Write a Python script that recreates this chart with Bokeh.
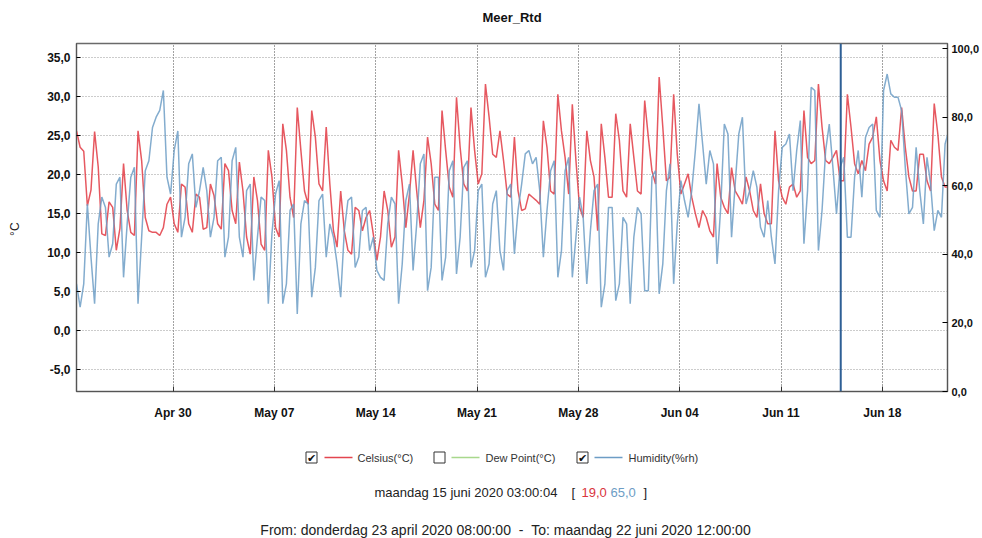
import datetime as dt
from bokeh.plotting import figure
from bokeh.models import (Range1d, LinearAxis, FixedTicker, DatetimeTickFormatter,
                          CustomJSTickFormatter, Span)
from bokeh.layouts import column
from bokeh.embed import file_html
from bokeh.resources import INLINE
from bokeh.core.properties import value

# ---------------- data ----------------
title_text = "Meer_Rtd"
start_time = dt.datetime(2020, 4, 23, 8, 0)
end_time = dt.datetime(2020, 6, 22, 12, 0)
sample_hours = 6          # samples at 08, 14, 20, 02 ...
cursor_time = dt.datetime(2020, 6, 15, 3, 0, 4)
cursor_celsius = 19.0
cursor_humidity = 65.0

celsius = [
    25.6, 23.5, 23.0,
    16.0, 18.0, 25.5, 21.0,
    12.4, 12.2, 16.5, 15.8,
    10.3, 13.1, 21.4, 15.4,
    12.6, 12.2, 25.6, 21.8,
    14.5, 12.8, 12.6, 12.6,
    12.2, 13.2, 16.2, 17.1,
    13.7, 12.6, 18.8, 18.4,
    13.7, 12.6, 17.5, 17.1,
    13.0, 13.2, 18.8, 17.3,
    13.7, 13.0, 21.4, 20.5,
    15.4, 13.7, 21.6, 17.9,
    12.0, 9.8, 19.7, 16.7,
    11.1, 10.3, 23.1, 19.7,
    13.2, 12.0, 26.5, 23.1,
    17.1, 14.5, 28.6, 23.1,
    17.9, 16.2, 28.2, 24.8,
    18.8, 17.9, 26.1, 18.8,
    12.8, 10.7, 17.9, 12.8,
    10.3, 9.8, 15.8, 15.4,
    12.8, 14.5, 15.4, 12.4,
    9.0, 12.0, 17.9, 15.4,
    10.7, 12.0, 23.1, 18.8,
    13.2, 17.5, 23.1, 17.9,
    13.2, 16.7, 24.8, 21.4,
    16.2, 15.4, 28.2, 23.1,
    18.4, 17.1, 29.9, 23.5,
    18.8, 17.9, 28.6, 23.1,
    18.8, 20.1, 31.6, 27.4,
    22.6, 22.2, 25.6, 21.8,
    17.5, 17.1, 24.8, 17.9,
    15.4, 15.6, 17.5, 17.1,
    16.7, 16.2, 26.9, 23.5,
    17.9, 17.5, 30.3, 25.6,
    22.2, 17.5, 29.0, 21.8,
    15.8, 14.5, 25.6, 21.8,
    19.7, 12.8, 26.5, 22.2,
    17.1, 17.1, 27.8, 24.4,
    17.9, 17.1, 26.5, 22.2,
    17.9, 17.5, 29.5, 24.8,
    20.5, 18.8, 32.5, 26.1,
    19.2, 19.7, 30.3, 22.6,
    17.5, 18.8, 20.1, 17.1,
    15.0, 13.2, 15.4, 14.5,
    12.8, 12.0, 21.4, 17.1,
    15.8, 15.0, 20.9, 17.9,
    17.1, 16.2, 19.7, 17.9,
    15.4, 14.5, 18.8, 15.0,
    13.7, 13.7, 25.6, 19.2,
    17.1, 16.2, 18.4, 18.8,
    17.1, 17.9, 28.2, 22.2,
    21.4, 21.8, 31.6, 26.1,
    21.8, 21.4, 22.2, 23.1,
    19.2, 19.2, 30.3, 26.1,
    21.4, 20.1, 21.8, 20.5,
    23.9, 24.8, 27.4, 21.8,
    19.2, 17.9, 24.4, 23.5,
    23.1, 28.6, 23.5, 19.7,
    17.9, 17.9, 22.6, 22.6,
    19.2, 17.9, 29.1, 25.2,
    19.7, 18.4, 18.4,
]

humidity = [
    31.4, 24.6, 31.4,
    54.7, 39.2, 25.6, 48.9,
    56.7, 53.7, 39.2, 43.1,
    60.5, 62.5, 33.3, 48.9,
    62.5, 65.4, 25.6, 45.0,
    64.4, 67.3, 77.0, 80.0,
    82.0, 87.8, 62.5, 57.6,
    70.3, 76.0, 45.0, 50.8,
    66.4, 69.3, 53.7, 58.6,
    65.4, 58.6, 45.0, 50.8,
    67.3, 68.3, 39.2, 45.0,
    67.3, 71.2, 45.0, 39.2,
    58.6, 60.5, 32.4, 45.0,
    56.7, 55.7, 25.6, 46.0,
    57.6, 61.5, 25.6, 31.4,
    52.8, 54.7, 22.6, 48.9,
    55.7, 54.7, 27.5, 36.2,
    55.7, 57.6, 39.2, 48.9,
    45.0, 37.2, 27.5, 46.9,
    55.7, 56.7, 36.2, 39.2,
    52.8, 53.7, 41.1, 45.0,
    35.3, 33.3, 32.4, 48.9,
    56.7, 54.7, 25.6, 37.2,
    55.7, 60.5, 35.3, 48.9,
    66.4, 69.3, 29.4, 36.2,
    62.5, 62.5, 32.4, 39.2,
    64.4, 67.3, 34.3, 45.0,
    65.4, 67.3, 36.2, 41.1,
    58.6, 60.5, 33.3, 37.2,
    54.7, 58.6, 41.1, 35.3,
    58.6, 60.5, 40.1, 52.8,
    60.5, 69.3, 70.3, 66.4,
    68.3, 58.6, 39.2, 52.8,
    64.4, 67.3, 33.3, 41.1,
    64.4, 68.3, 33.3, 45.0,
    56.7, 50.8, 31.4, 46.9,
    58.6, 60.5, 24.6, 31.4,
    53.7, 53.7, 26.5, 31.4,
    50.8, 48.9, 25.6, 45.0,
    53.7, 51.8, 29.4, 29.4,
    62.5, 64.4, 28.5, 37.2,
    58.6, 66.4, 31.4, 48.9,
    61.5, 55.7, 50.8, 58.6,
    70.3, 83.9, 72.2, 60.5,
    70.3, 66.4, 37.2, 53.7,
    78.0, 75.1, 45.0, 60.5,
    75.1, 80.0, 54.7, 58.6,
    64.4, 59.6, 47.9, 45.0,
    55.7, 45.0, 37.2, 58.6,
    71.2, 72.2, 75.1, 58.6,
    70.3, 79.0, 43.1, 58.6,
    88.7, 87.8, 41.1, 52.8,
    70.3, 78.0, 65.4, 51.8,
    65.4, 68.3, 45.0, 45.0,
    62.5, 70.3, 56.7, 74.1,
    77.0, 78.0, 52.8, 50.8,
    87.8, 92.6, 86.8, 85.8,
    85.8, 81.9, 65.4, 51.8,
    53.7, 71.2, 58.6, 48.9,
    68.3, 60.5, 46.9, 52.8,
    50.8, 72.2, 76.0,
]

week_ticks = ["2020-04-30", "2020-05-07", "2020-05-14", "2020-05-21",
              "2020-05-28", "2020-06-04", "2020-06-11", "2020-06-18"]
celsius_ticks = [-5, 0, 5, 10, 15, 20, 25, 30, 35]
humidity_ticks = [0, 20, 40, 60, 80, 100]
celsius_range = (-7.8, 36.8)
humidity_range = (0, 101.5)

legend_items = ["Celsius(°C)", "Dew Point(°C)", "Humidity(%rh)"]
legend_checked = [True, False, True]
cursor_label = "maandag 15 juni 2020 03:00:04"
NB = "\u00a0"
range_label = ("From: donderdag 23 april 2020 08:00:00" + NB + NB + "-" + NB + NB
               + "To: maandag 22 juni 2020 12:00:00")

RED = "#e3464f"
BLUE = "#6d9dc5"
GREEN = "#a8d88c"
FONT = "Liberation Sans"

times = [start_time + dt.timedelta(hours=sample_hours * i) for i in range(len(celsius))]


def ms(d):
    return (d - dt.datetime(1970, 1, 1)).total_seconds() * 1000.0


# layout geometry (page pixels)
PAGE_W, PAGE_H = 982, 538
FRAME_L, FRAME_R, FRAME_T, FRAME_B = 76, 947, 43, 391
TOP_H = 33                      # strip holding the title
MAIN_BOTTOM = 430               # page y where the chart figure ends
MAIN_H = MAIN_BOTTOM - TOP_H
LOW_H = PAGE_H - MAIN_BOTTOM


def text_strip(y0, y1):
    """A blank figure whose data coordinates equal page pixels (frame aligned by the column)."""
    f = figure(width=PAGE_W, height=y1 - y0,
               x_range=Range1d(FRAME_L, FRAME_R), y_range=Range1d(y1, y0),
               output_backend="svg", toolbar_location=None,
               x_axis_location=None, y_axis_location=None,
               min_border_left=FRAME_L, min_border_right=PAGE_W - FRAME_R,
               min_border_top=0, min_border_bottom=0)
    f.xgrid.visible = False
    f.ygrid.visible = False
    f.outline_line_color = None
    return f


# ---------------- title strip ----------------
t = text_strip(0, TOP_H)
t.text(x=[(FRAME_L + FRAME_R) / 2], y=[17], text=[title_text], text_align="center",
       text_baseline="middle", text_font=value(FONT), text_font_size="13px",
       text_font_style="bold", text_color="#111111")

# ---------------- main chart ----------------
p = figure(width=PAGE_W, height=MAIN_H, x_axis_type="datetime",
           x_range=Range1d(start_time, end_time),
           y_range=Range1d(*celsius_range),
           output_backend="svg", toolbar_location=None,
           min_border_left=FRAME_L, min_border_right=PAGE_W - FRAME_R,
           min_border_top=FRAME_T - TOP_H, min_border_bottom=MAIN_BOTTOM - FRAME_B)
p.extra_y_ranges = {"hum": Range1d(*humidity_range)}

p.outline_line_color = "#6a6a6a"
p.outline_line_width = 1.5
p.background_fill_color = "white"
p.border_fill_color = "white"

xa = p.xaxis[0]
xa.ticker = FixedTicker(ticks=[ms(dt.datetime.strptime(d, "%Y-%m-%d")) for d in week_ticks])
xa.formatter = DatetimeTickFormatter(days="%b %d", months="%b %d", hours="%b %d")
xa.major_label_text_font = FONT
xa.major_label_text_font_size = "12px"
xa.major_label_text_font_style = "bold"
xa.major_label_text_color = "#111111"
xa.major_tick_in = 5
xa.major_tick_out = 0
xa.minor_tick_line_color = None
xa.major_label_standoff = 14
xa.axis_line_color = "#555555"
xa.major_tick_line_color = "#333333"

ya = p.yaxis[0]
ya.ticker = FixedTicker(ticks=celsius_ticks)
ya.formatter = CustomJSTickFormatter(code="return tick.toFixed(1).replace('.', ',');")
ya.axis_label = "°C" + NB * 7
ya.axis_label_text_font = FONT
ya.axis_label_text_font_size = "12px"
ya.axis_label_text_font_style = "normal"
ya.axis_label_text_color = "#222222"
ya.axis_label_standoff = 22
ya.major_label_text_font = FONT
ya.major_label_text_font_size = "12px"
ya.major_label_text_font_style = "bold"
ya.major_label_text_color = "#111111"
ya.major_tick_in = 4
ya.major_tick_out = 0
ya.minor_tick_line_color = None
ya.major_label_standoff = 6
ya.axis_line_color = "#555555"

ra = LinearAxis(y_range_name="hum", ticker=FixedTicker(ticks=humidity_ticks),
                formatter=CustomJSTickFormatter(code="return tick.toFixed(1).replace('.', ',');"))
ra.major_label_text_font = FONT
ra.major_label_text_font_size = "11px"
ra.major_label_text_font_style = "bold"
ra.major_label_text_color = "#111111"
ra.major_tick_in = 5
ra.major_tick_out = 0
ra.minor_tick_line_color = None
ra.major_label_standoff = 4
ra.axis_line_color = "#555555"
p.add_layout(ra, "right")

p.xgrid.grid_line_color = "#444444"
p.xgrid.grid_line_dash = "1 2"
p.ygrid.grid_line_color = "#999999"
p.ygrid.grid_line_dash = "1 2"

p.line(times, celsius, line_color=RED, line_width=1.5, line_alpha=0.9)
p.line(times, humidity, y_range_name="hum", line_color=BLUE, line_width=1.5, line_alpha=0.85)

p.add_layout(Span(location=ms(cursor_time), dimension="height",
                  line_color="#2e5f95", line_width=2))

# ---------------- legend / status strip ----------------
q = text_strip(MAIN_BOTTOM, PAGE_H)

ly = 457
box_x = [311, 439, 582]
line_x0 = [324, 451, 594]
text_x = [357, 485, 628]
line_colors = [RED, GREEN, BLUE]
q.rect(x=box_x, y=[ly] * 3, width=11, height=11, fill_color="white",
       line_color="#333333", line_width=1)
chk = [bx for bx, c in zip(box_x, legend_checked) if c]
q.text(x=chk, y=[ly + 0.5] * len(chk), text=["✔"] * len(chk), text_align="center",
       text_baseline="middle", text_font=value("DejaVu Sans"), text_font_size="11px",
       text_color="#111111")
q.segment(x0=line_x0, y0=[ly] * 3, x1=[x + 28 for x in line_x0], y1=[ly] * 3,
          line_color=line_colors, line_width=1.3)
q.text(x=text_x, y=[ly] * 3, text=legend_items, text_align="left",
       text_baseline="middle", text_font=value(FONT), text_font_size="11px",
       text_color="#333333")

l2 = 492
F2 = "13px"
q.text(x=[374], y=[l2], text=[cursor_label], text_baseline="middle",
       text_font=value(FONT), text_font_size=F2, text_color="#222222")
q.text(x=[571], y=[l2], text=["["], text_baseline="middle",
       text_font=value(FONT), text_font_size=F2, text_color="#222222")
q.text(x=[581], y=[l2], text=[f"{cursor_celsius:.1f}".replace(".", ",")], text_baseline="middle",
       text_font=value(FONT), text_font_size=F2, text_color="#d9343c")
q.text(x=[610], y=[l2], text=[f"{cursor_humidity:.1f}".replace(".", ",")], text_baseline="middle",
       text_font=value(FONT), text_font_size=F2, text_color="#6d9dc5")
q.text(x=[643], y=[l2], text=["]"], text_baseline="middle",
       text_font=value(FONT), text_font_size=F2, text_color="#222222")

q.text(x=[505], y=[529], text=[range_label], text_align="center", text_baseline="middle",
       text_font=value(FONT), text_font_size="14px", text_color="#222222")

layout = column(t, p, q, spacing=0)
open("out.html", "w").write(file_html(layout, INLINE))
